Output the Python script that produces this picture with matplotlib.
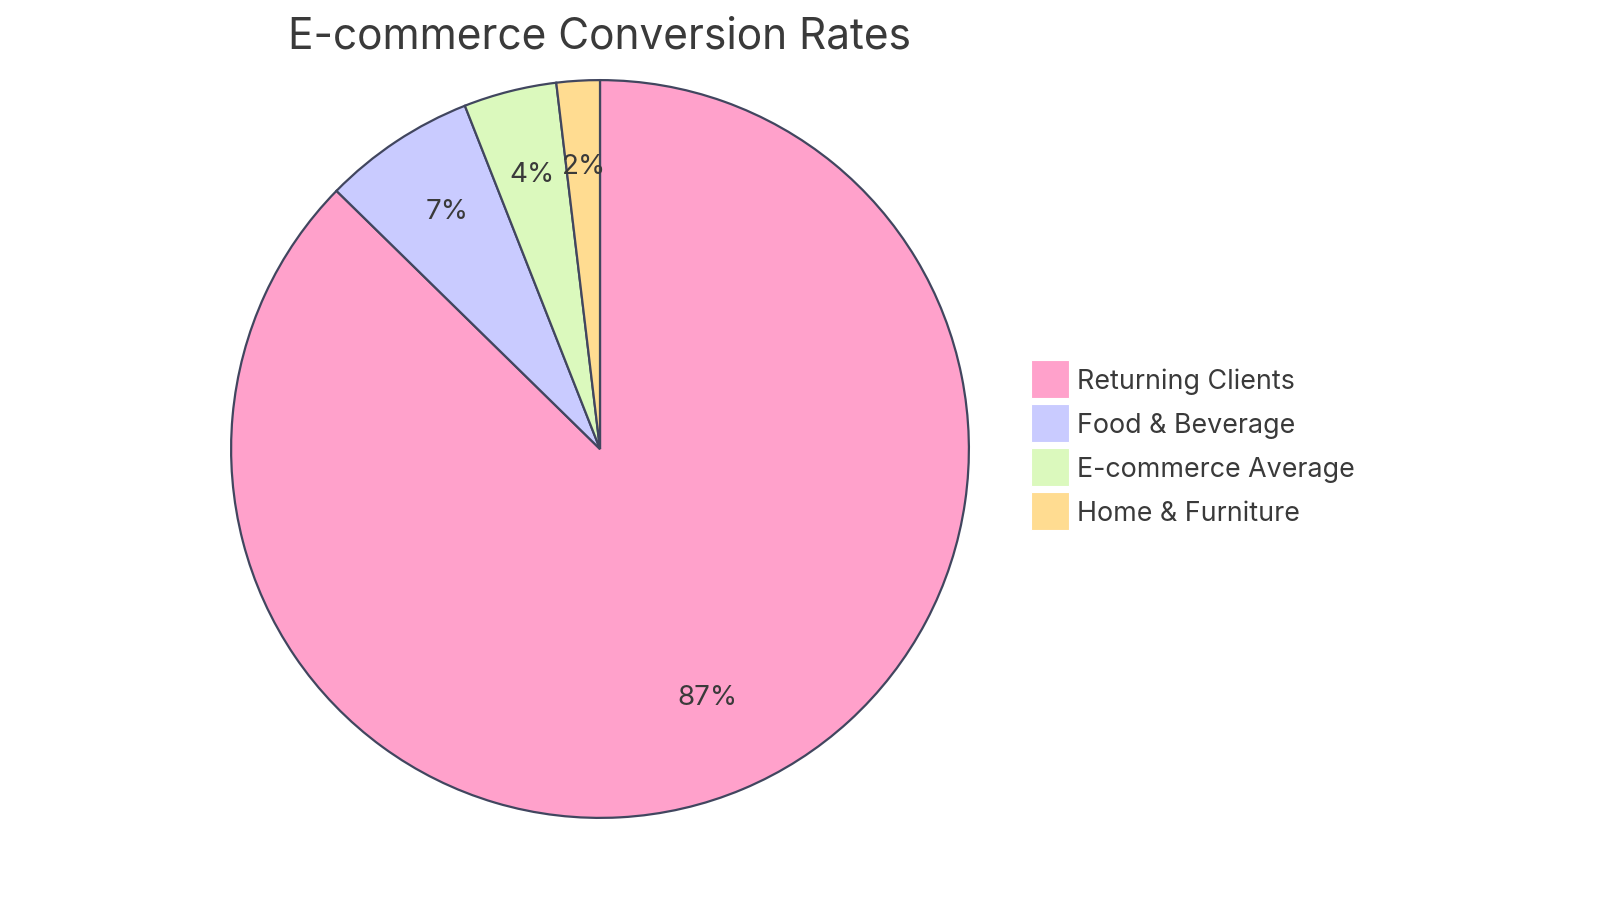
import matplotlib
matplotlib.use("Agg")
import matplotlib.pyplot as plt
from matplotlib.patches import Patch

# conversion rates (percent), slices go clockwise from 12 o'clock
labels = ["Returning Clients", "Food & Beverage", "E-commerce Average", "Home & Furniture"]
rates = [60, 4.6, 2.8, 1.3]
colors = ["#FFA1CB", "#C9CBFF", "#DBF9BD", "#FFDC91"]

plt.rcParams['font.family'] = ['Inter', 'DejaVu Sans']
text_color = "#3A3A3A"
edge_color = "#41465F"

W, H = 1600, 903
fig = plt.figure(figsize=(W / 100, H / 100), dpi=100)

# pie centre (600, 450) px, radius 370 px
cx, cy, r = 600, 450, 370
ax = fig.add_axes([(cx - r) / W, (H - cy - r) / H, 2 * r / W, 2 * r / H])

wedges, texts, autotexts = ax.pie(
    rates, colors=colors, startangle=90, counterclock=False,
    autopct=lambda p: "%d%%" % round(p), pctdistance=0.75,
    wedgeprops=dict(edgecolor=edge_color, linewidth=1.6),
    textprops=dict(fontsize=20, color=text_color))
for t in autotexts:
    # label sits on its baseline at the slice centroid
    t.set_va('baseline')
ax.set_xlim(-1.003, 1.003)
ax.set_ylim(-1.003, 1.003)
ax.set_aspect('equal')

fig.text(cx / W, 1 - 37 / H, "E-commerce Conversion Rates", ha='center', va='center',
         fontsize=30.5, color=text_color)

handles = [Patch(facecolor=c, edgecolor='white', linewidth=0.8) for c in colors]
fig.legend(handles, labels, loc='upper left', bbox_to_anchor=(1031 / W, 1 - 361 / H),
           frameon=False, fontsize=19.3, labelcolor=text_color,
           handlelength=1.41, handleheight=1.8, handletextpad=0.3,
           labelspacing=0.23, borderpad=0, borderaxespad=0)

fig.savefig("out.png", dpi=100, facecolor='white')
